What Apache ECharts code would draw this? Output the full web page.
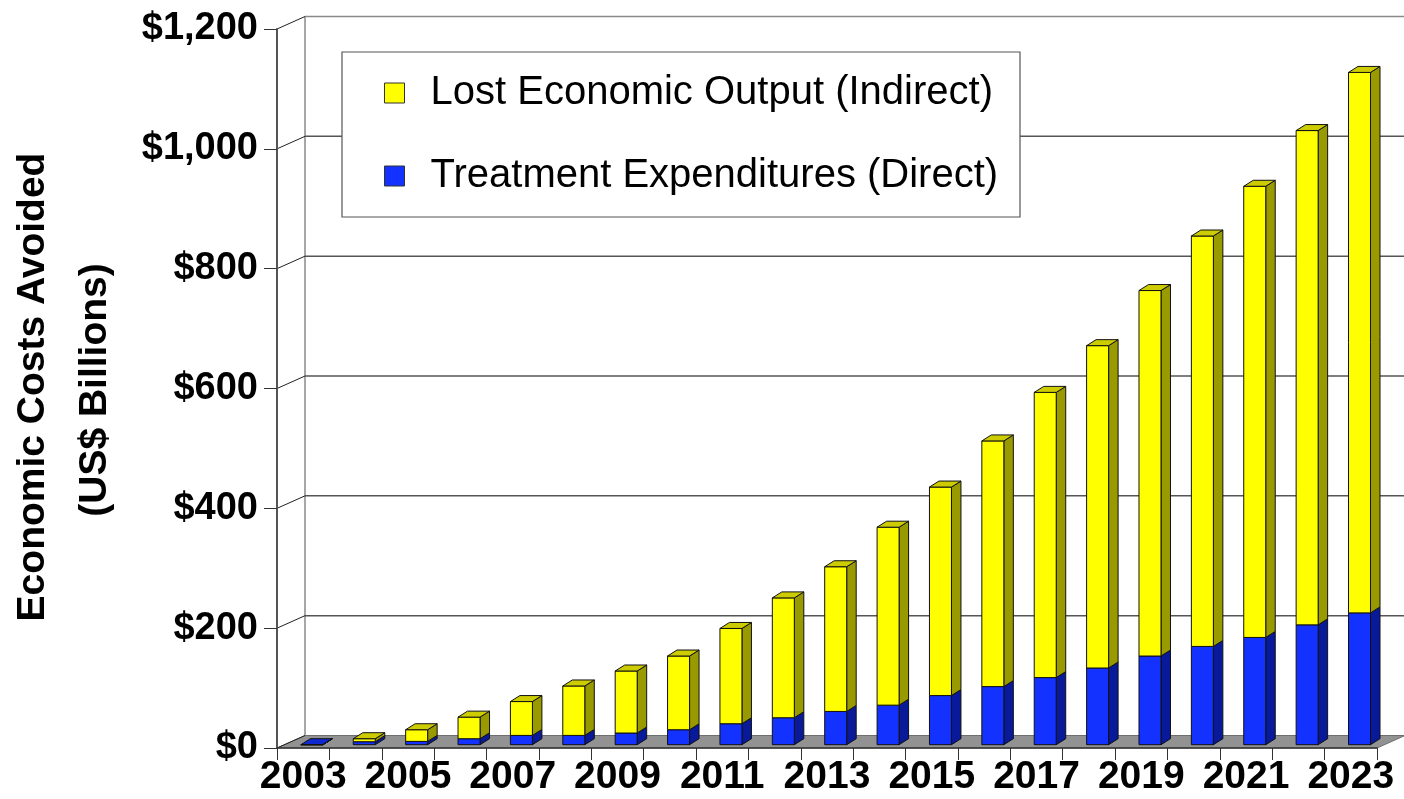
<!DOCTYPE html>
<html>
<head>
<meta charset="utf-8">
<script src="https://cdn.jsdelivr.net/npm/echarts@6/dist/echarts.min.js"></script>
<style>
html,body{margin:0;padding:0;background:#fff;}
#chart{width:1404px;height:799px;}
</style>
</head>
<body>
<div id="chart"></div>
<script>
const years = ['2003','2004','2005','2006','2007','2008','2009','2010','2011','2012','2013','2014','2015','2016','2017','2018','2019','2020','2021','2022','2023'];
const direct = [0, 5, 5.5, 10, 15.5, 15.5, 19.5, 25, 35, 45, 55.5, 66, 82, 97, 112, 128, 148, 164, 179, 200, 220];
const indirect = [0, 5, 19.5, 36, 56.5, 82.5, 103.5, 123, 159, 200, 241.5, 297, 348, 410, 476, 538, 610, 685, 753, 825, 902];
const yTicks = [0, 200, 400, 600, 800, 1000, 1200];
const seriesNames = ['Lost Economic Output (Indirect)', 'Treatment Expenditures (Direct)'];

const FONT = '"Liberation Sans", Arial, sans-serif';
// 3D geometry (pixels)
const WX = 28, WY = -12.5;      // wall depth
const OX = 8.7, OY = -3.3;      // bar front-face offset
const BW = 22;                   // bar front width
const DX = 9.5, DY = -6;         // bar depth

function barRender(colors, topWhen) {
  return function (params, api) {
    const i = api.value(0), lo = api.value(1), hi = api.value(2), other = api.value(3);
    const c = api.coord([i, 0])[0];
    const yLo = api.coord([i, lo])[1] + OY;
    const yHi = api.coord([i, hi])[1] + OY;
    const x0 = c + OX - BW / 2, x1 = x0 + BW;
    const stroke = '#111';
    const children = [
      { type: 'polygon', shape: { points: [[x1, yHi], [x1 + DX, yHi + DY], [x1 + DX, yLo + DY], [x1, yLo]] },
        style: { fill: colors.side, stroke: stroke, lineWidth: 1 } },
      { type: 'rect', shape: { x: x0, y: yHi, width: BW, height: yLo - yHi },
        style: { fill: colors.front, stroke: stroke, lineWidth: 1 } }
    ];
    if (topWhen(other)) {
      children.push({ type: 'polygon', shape: { points: [[x0, yHi], [x1, yHi], [x1 + DX, yHi + DY], [x0 + DX, yHi + DY]] },
        style: { fill: colors.top, stroke: stroke, lineWidth: 1 } });
    }
    return { type: 'group', children: children };
  };
}

function wallRender(params, api) {
  const v = api.value(1);
  const cs = params.coordSys;
  const left = cs.x, right = cs.x + cs.width;
  const y = api.coord([0, v])[1];
  const children = [];
  if (v === 0) {
    children.push({ type: 'polygon', shape: { points: [[left, y], [left + WX, y + WY], [right + WX, y + WY], [right, y]] },
      style: { fill: '#929292', stroke: '#6e6e6e', lineWidth: 1 } });
    children.push({ type: 'line', shape: { x1: left + WX, y1: y + WY, x2: left + WX, y2: cs.y + WY },
      style: { stroke: '#8a8a8a', lineWidth: 1.5 } });
  } else {
    children.push({ type: 'line', shape: { x1: left + WX, y1: y + WY, x2: right + WX, y2: y + WY },
      style: { stroke: v === 1200 ? '#8a8a8a' : '#555', lineWidth: 1.5 } });
  }
  children.push({ type: 'line', shape: { x1: left, y1: y, x2: left + WX, y2: y + WY },
    style: { stroke: '#222', lineWidth: 1 } });
  return { type: 'group', children: children };
}

const blueData = years.map((y, i) => [i, 0, direct[i], indirect[i]]);
const yellowData = years.map((y, i) => [i, direct[i], direct[i] + indirect[i], indirect[i]]);
const wallData = yTicks.map(v => [0, v]);

const chart = echarts.init(document.getElementById('chart'), null, { renderer: 'canvas' });
chart.setOption({
  animation: false,
  backgroundColor: '#ffffff',
  grid: { left: 277, right: 27, top: 29, bottom: 51, containLabel: false },
  xAxis: {
    type: 'category', data: years, boundaryGap: true, z: 5,
    axisLine: { show: true, lineStyle: { color: '#333', width: 1.5 } },
    axisTick: { show: true, interval: 0, length: 12, lineStyle: { color: '#333', width: 1 } },
    axisLabel: { interval: 1, fontSize: 39, fontWeight: 'bold', fontFamily: FONT, color: '#000', margin: 10 },
    splitLine: { show: false }
  },
  yAxis: {
    type: 'value', min: 0, max: 1200, interval: 200, z: 5,
    axisLine: { show: true, lineStyle: { color: '#555', width: 2 } },
    axisTick: { show: true, length: 13, lineStyle: { color: '#333', width: 1 } },
    axisLabel: { fontSize: 38, fontWeight: 'bold', fontFamily: FONT, color: '#000', margin: 19,
      formatter: v => '$' + v.toLocaleString('en-US') },
    splitLine: { show: false }
  },
  legend: {
    data: seriesNames, orient: 'vertical', left: 384, top: 73, padding: 0,
    itemWidth: 20, itemHeight: 20, itemGap: 43, icon: 'rect',
    itemStyle: { borderColor: '#333', borderWidth: 1 },
    textStyle: { fontSize: 40, fontFamily: FONT, color: '#000', lineHeight: 40, padding: [0, 0, 0, 21] }
  },
  graphic: [
    { type: 'rect', shape: { x: 342, y: 52, width: 678, height: 165 }, z: 1,
      style: { fill: '#fff', stroke: '#555', lineWidth: 1.2 } },
    { type: 'text', x: 33, y: 387, rotation: Math.PI / 2,
      style: { text: 'Economic Costs Avoided', fontSize: 39, fontWeight: 'bold', fontFamily: FONT, fill: '#000', align: 'center', verticalAlign: 'middle' } },
    { type: 'text', x: 95, y: 390, rotation: Math.PI / 2,
      style: { text: '(US$ Billions)', fontSize: 39, fontWeight: 'bold', fontFamily: FONT, fill: '#000', align: 'center', verticalAlign: 'middle' } }
  ],
  series: [
    { type: 'custom', name: 'wall', silent: true, z: 0, data: wallData, encode: { x: 0, y: 1 }, renderItem: wallRender },
    { type: 'custom', name: seriesNames[1], z: 2, data: blueData, encode: { x: 0, y: [1, 2] },
      itemStyle: { color: '#1432ff' },
      renderItem: barRender({ front: '#1432ff', side: '#081a99', top: '#1028d0' }, other => other === 0) },
    { type: 'custom', name: seriesNames[0], z: 3, data: yellowData, encode: { x: 0, y: [1, 2] },
      itemStyle: { color: '#ffff00' },
      renderItem: barRender({ front: '#ffff00', side: '#999900', top: '#cccc00' }, other => other > 0) }
  ]
});
</script>
</body>
</html>
